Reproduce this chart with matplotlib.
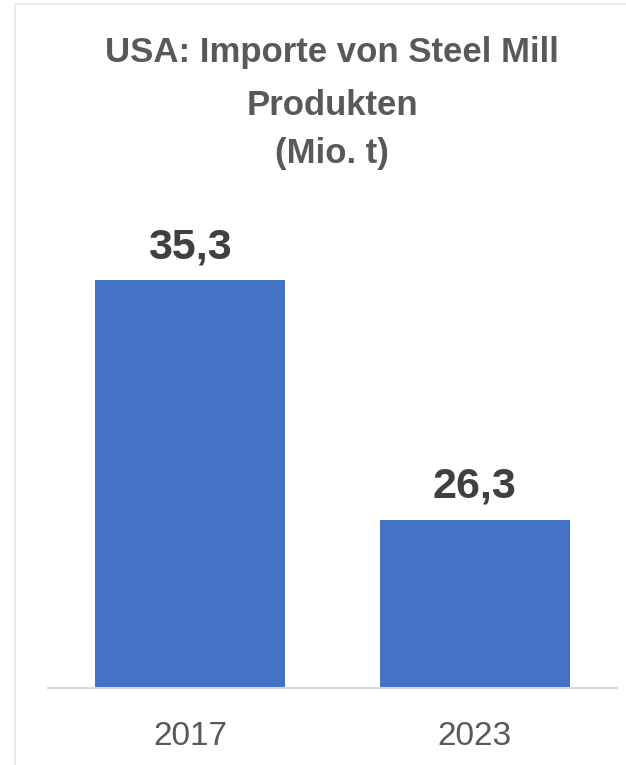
import matplotlib

matplotlib.use("Agg")
import matplotlib.pyplot as plt
from matplotlib.patches import Rectangle

years = ["2017", "2023"]
imports = [35.3, 26.3]
value_labels = ["35,3", "26,3"]
title_lines = ["USA: Importe von Steel Mill", "Produkten", "(Mio. t)"]

plt.rcParams["font.family"] = ["Liberation Sans", "DejaVu Sans"]

fig = plt.figure(figsize=(6.26, 7.65), dpi=100)
W, H = 626, 765

# light frame around the chart area
fig.patches.append(
    Rectangle((15 / W, -0.1), 1.2, (H - 4) / H + 0.1, transform=fig.transFigure,
              fill=False, edgecolor="#e8e8e8", linewidth=1.2)
)

ax = fig.add_axes([48 / W, 77 / H, (617 - 48) / W, (688 - 155) / H])
x = range(len(years))
bars = ax.bar(x, imports, width=0.668, color="#4472C4", bottom=0)
ax.set_ylim(20, 40)
ax.set_xlim(-0.499, 1.50)

for spine in ["top", "right", "left"]:
    ax.spines[spine].set_visible(False)
ax.spines["bottom"].set_color("#d9d9d9")
ax.spines["bottom"].set_linewidth(1.5)
ax.set_yticks([])
ax.set_xticks(list(x))
ax.set_xticklabels(years, fontsize=24, color="#595959")
ax.tick_params(axis="x", length=0, pad=24)

for bar, lab in zip(bars, value_labels):
    ax.annotate(lab, xy=(bar.get_x() + bar.get_width() / 2, bar.get_height()),
                xytext=(0, 16), textcoords="offset points", ha="center",
                va="baseline", fontsize=31, fontweight="bold", color="#404040")

for line, base in zip(title_lines, [62, 115, 163]):
    fig.text(332 / W, 1 - base / H, line, ha="center", va="baseline",
             fontsize=25, fontweight="bold", color="#595959")

fig.savefig("out.png", dpi=100)
